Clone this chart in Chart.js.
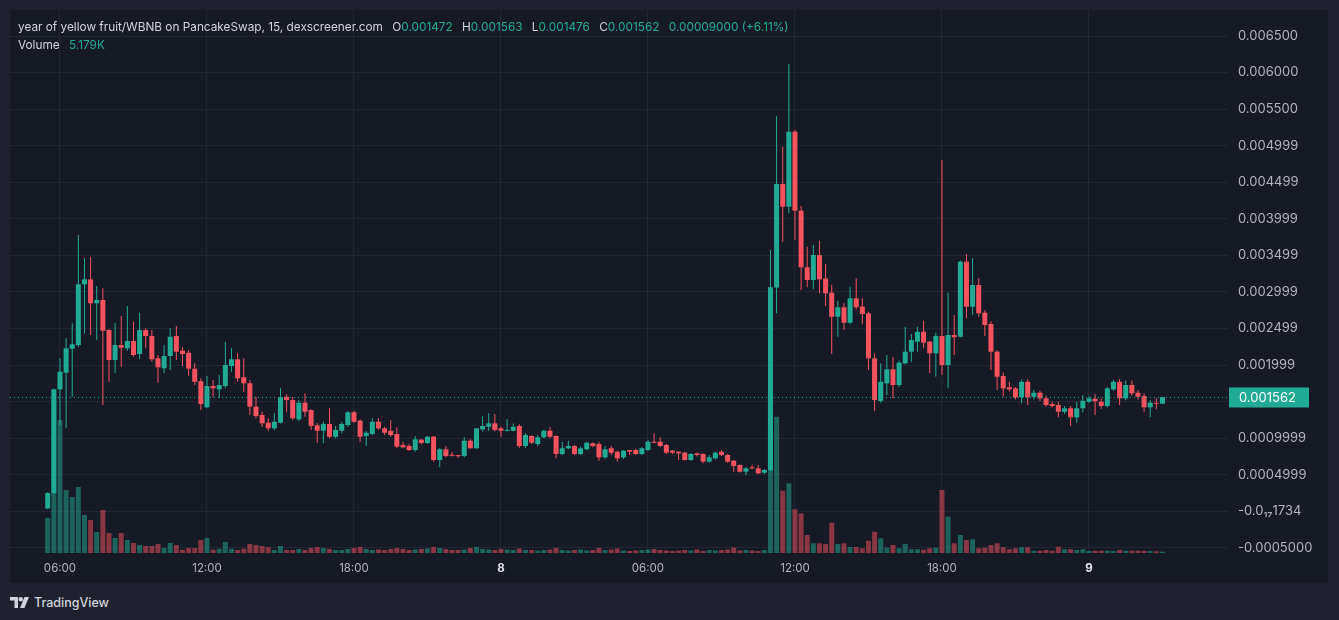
<!DOCTYPE html>
<html>
<head>
<meta charset="utf-8">
<script src="https://cdn.jsdelivr.net/npm/chart.js@4.4.1/dist/chart.umd.min.js"></script>
<style>
  html, body { margin: 0; padding: 0; }
  body { width: 1339px; height: 620px; overflow: hidden; background: #1f222e; font-family: Inter, Roboto, sans-serif; position: relative; }
  #panel { position: absolute; left: 10px; top: 10px; width: 1318px; height: 573px; background: #161a25; }
  #panel canvas { position: absolute; left: 0; top: 0; }
  #legend { position: absolute; left: 8px; top: 8px; font-size: 11.8px; color: #d1d4dc; line-height: 18px; pointer-events: none; }
  #legend .v { color: #22ab94; }
  #legend .k { margin-left: 6px; }
  #legend .gap { margin-left: 6px; }
  #brand { position: absolute; left: 10px; top: 595px; display: flex; align-items: center; color: #d1d4dc; font-size: 12.5px; font-weight: 500; }
  #brand svg { margin-right: 5px; }
</style>
</head>
<body>
<div id="panel">
  <canvas id="chart" width="1318" height="573"></canvas>
  <div id="legend">
    <div>year of yellow fruit/WBNB on PancakeSwap, 15, dexscreener.com <span class="k">O</span><span class="v">0.001472</span> <span class="k">H</span><span class="v">0.001563</span> <span class="k">L</span><span class="v">0.001476</span> <span class="k">C</span><span class="v">0.001562</span> <span class="v gap">0.00009000 (+6.11%)</span></div>
    <div>Volume <span class="v gap">5.179K</span></div>
  </div>
</div>
<div id="brand">
  <svg width="19" height="12" viewBox="0 0 19 12"><path d="M0 0h8v11H4.5V3.5H0z" fill="#d1d4dc"/><circle cx="10.8" cy="2.2" r="2.2" fill="#d1d4dc"/><path d="M14.5 0H19l-4.6 11H10z" fill="#d1d4dc"/></svg>
  TradingView
</div>
<script>
// 15 minute candles, first one at 05:30, last one at 03:00 two days later
const opens = [
  0.000040, 0.000250, 0.001668, 0.001896, 0.002224, 0.002274, 0.003104, 0.003173, 0.002845, 0.002890,
  0.002480, 0.002069, 0.002274, 0.002229, 0.002329, 0.002151, 0.002479, 0.002397, 0.002092, 0.001956,
  0.002124, 0.002397, 0.002196, 0.002169, 0.001950, 0.001780, 0.001422, 0.001714, 0.001668, 0.001714,
  0.001987, 0.002079, 0.001833, 0.001751, 0.001431, 0.001317, 0.001212, 0.001135, 0.001212, 0.001567,
  0.001522, 0.001258, 0.001485, 0.001385, 0.001176, 0.001102, 0.001194, 0.001020, 0.001102, 0.001180,
  0.001354, 0.001239, 0.001030, 0.001057, 0.001225, 0.001135, 0.001102, 0.001057, 0.000907, 0.000893,
  0.000838, 0.000980, 0.000935, 0.001020, 0.000702, 0.000848, 0.000770, 0.000760, 0.000756, 0.000966,
  0.000862, 0.001120, 0.001157, 0.001203, 0.001135, 0.001100, 0.001102, 0.001167, 0.000893, 0.001030,
  0.000920, 0.001012, 0.001102, 0.001030, 0.000784, 0.000862, 0.000893, 0.000784, 0.000848, 0.000930,
  0.000920, 0.000738, 0.000862, 0.000815, 0.000738, 0.000838, 0.000838, 0.000784, 0.000838, 0.000945,
  0.000952, 0.000907, 0.000830, 0.000815, 0.000802, 0.000702, 0.000793, 0.000784, 0.000680, 0.000725,
  0.000815, 0.000770, 0.000692, 0.000633, 0.000542, 0.000600, 0.000588, 0.000528, 0.000560, 0.003060,
  0.004476, 0.004166, 0.005191, 0.004111, 0.003337, 0.003163, 0.003505, 0.003186, 0.002990, 0.002661,
  0.002790, 0.002579, 0.002913, 0.002800, 0.002708, 0.002092, 0.001510, 0.001750, 0.001942, 0.001727,
  0.002024, 0.002183, 0.002320, 0.002456, 0.002320, 0.002161, 0.002397, 0.002001, 0.002411, 0.002388,
  0.003414, 0.002798, 0.003095, 0.002716, 0.002562, 0.002183, 0.001850, 0.001696, 0.001682, 0.001559,
  0.001772, 0.001567, 0.001622, 0.001545, 0.001467, 0.001454, 0.001362, 0.001409, 0.001285, 0.001409,
  0.001500, 0.001540, 0.001500, 0.001440, 0.001668, 0.001772, 0.001545, 0.001727, 0.001622, 0.001577,
  0.001422, 0.001477, 0.001472
];
const highs = [
  0.000260, 0.001680, 0.002092, 0.002366, 0.002571, 0.003779, 0.003460, 0.003482, 0.003081, 0.003050,
  0.002490, 0.002579, 0.002671, 0.002808, 0.002593, 0.002716, 0.002503, 0.002479, 0.002138, 0.002274,
  0.002503, 0.002534, 0.002247, 0.002206, 0.002024, 0.001819, 0.001850, 0.001796, 0.001864, 0.002320,
  0.002229, 0.002161, 0.002092, 0.001796, 0.001567, 0.001362, 0.001272, 0.001340, 0.001682, 0.001600,
  0.001567, 0.001522, 0.001614, 0.001395, 0.001208, 0.001225, 0.001409, 0.001167, 0.001225, 0.001376,
  0.001376, 0.001260, 0.001100, 0.001272, 0.001272, 0.001157, 0.001249, 0.001149, 0.000952, 0.000925,
  0.001030, 0.000990, 0.001030, 0.001030, 0.000870, 0.000893, 0.000810, 0.000765, 0.001012, 0.000985,
  0.001140, 0.001303, 0.001340, 0.001330, 0.001160, 0.001258, 0.001200, 0.001190, 0.001067, 0.001040,
  0.001040, 0.001120, 0.001149, 0.001040, 0.000952, 0.000966, 0.000907, 0.000884, 0.000952, 0.000940,
  0.000952, 0.000893, 0.000893, 0.000830, 0.000838, 0.000840, 0.000860, 0.000875, 0.000975, 0.001067,
  0.001012, 0.000925, 0.000838, 0.000820, 0.000815, 0.000793, 0.000800, 0.000793, 0.000770, 0.000815,
  0.000838, 0.000784, 0.000700, 0.000640, 0.000610, 0.000633, 0.000633, 0.000580, 0.003574, 0.005406,
  0.004986, 0.006117, 0.005220, 0.004175, 0.003619, 0.003642, 0.003701, 0.003382, 0.003100, 0.002880,
  0.002850, 0.003072, 0.003186, 0.002913, 0.002730, 0.002161, 0.002024, 0.002138, 0.002110, 0.002060,
  0.002525, 0.002425, 0.002525, 0.002607, 0.002330, 0.002442, 0.004805, 0.002990, 0.002684, 0.003430,
  0.003519, 0.003460, 0.003186, 0.002750, 0.002600, 0.002200, 0.001900, 0.001772, 0.001700, 0.001805,
  0.001805, 0.001660, 0.001650, 0.001580, 0.001500, 0.001500, 0.001440, 0.001440, 0.001500, 0.001590,
  0.001580, 0.001600, 0.001545, 0.001700, 0.001800, 0.001805, 0.001790, 0.001790, 0.001660, 0.001610,
  0.001522, 0.001545, 0.001563
];
const lows = [
  0.000030, 0.000240, 0.001180, 0.001139, 0.001567, 0.002250, 0.002434, 0.002411, 0.002343, 0.001454,
  0.001772, 0.001887, 0.001978, 0.002196, 0.002114, 0.002079, 0.002229, 0.002046, 0.001759, 0.001887,
  0.001932, 0.002069, 0.001987, 0.001850, 0.001727, 0.001385, 0.001409, 0.001559, 0.001545, 0.001682,
  0.001909, 0.001772, 0.001636, 0.001317, 0.001272, 0.001157, 0.001102, 0.001110, 0.001200, 0.001362,
  0.001248, 0.001235, 0.001294, 0.001112, 0.000938, 0.000930, 0.000998, 0.000998, 0.001067, 0.001153,
  0.001212, 0.000952, 0.000893, 0.001040, 0.001112, 0.001043, 0.001020, 0.000862, 0.000862, 0.000825,
  0.000815, 0.000915, 0.000920, 0.000680, 0.000602, 0.000740, 0.000750, 0.000730, 0.000740, 0.000860,
  0.000855, 0.001090, 0.001100, 0.001090, 0.001020, 0.001090, 0.001090, 0.000870, 0.000862, 0.000920,
  0.000893, 0.000998, 0.001000, 0.000725, 0.000770, 0.000850, 0.000770, 0.000770, 0.000835, 0.000875,
  0.000692, 0.000720, 0.000770, 0.000680, 0.000720, 0.000770, 0.000770, 0.000770, 0.000830, 0.000930,
  0.000880, 0.000784, 0.000784, 0.000702, 0.000695, 0.000692, 0.000750, 0.000656, 0.000665, 0.000710,
  0.000755, 0.000665, 0.000542, 0.000530, 0.000496, 0.000575, 0.000505, 0.000510, 0.000545, 0.002708,
  0.003687, 0.004075, 0.003710, 0.003026, 0.003063, 0.003036, 0.002981, 0.002808, 0.002151, 0.002388,
  0.002479, 0.002560, 0.002760, 0.002560, 0.001932, 0.001372, 0.001485, 0.001590, 0.001545, 0.001700,
  0.002010, 0.002046, 0.002183, 0.002229, 0.001887, 0.001841, 0.001864, 0.001682, 0.002138, 0.002380,
  0.002640, 0.002684, 0.002660, 0.002397, 0.001932, 0.001659, 0.001567, 0.001640, 0.001530, 0.001477,
  0.001454, 0.001530, 0.001510, 0.001430, 0.001420, 0.001285, 0.001330, 0.001167, 0.001212, 0.001350,
  0.001480, 0.001317, 0.001400, 0.001420, 0.001650, 0.001454, 0.001520, 0.001580, 0.001530, 0.001362,
  0.001285, 0.001395, 0.001476
];
const closes = [
  0.000250, 0.001668, 0.001909, 0.002229, 0.002284, 0.003104, 0.003173, 0.002845, 0.002890, 0.002470,
  0.002069, 0.002274, 0.002237, 0.002329, 0.002138, 0.002479, 0.002397, 0.002079, 0.001969, 0.002124,
  0.002388, 0.002183, 0.002151, 0.001950, 0.001772, 0.001467, 0.001714, 0.001682, 0.001727, 0.002001,
  0.002079, 0.001819, 0.001751, 0.001431, 0.001303, 0.001203, 0.001135, 0.001225, 0.001559, 0.001522,
  0.001272, 0.001485, 0.001362, 0.001167, 0.001102, 0.001194, 0.001020, 0.001112, 0.001194, 0.001354,
  0.001225, 0.001020, 0.001075, 0.001225, 0.001135, 0.001075, 0.001043, 0.000884, 0.000875, 0.000838,
  0.000985, 0.000935, 0.001020, 0.000702, 0.000848, 0.000756, 0.000760, 0.000755, 0.000966, 0.000862,
  0.001135, 0.001167, 0.001203, 0.001112, 0.001102, 0.001112, 0.001157, 0.000893, 0.001043, 0.000938,
  0.001012, 0.001102, 0.001020, 0.000784, 0.000862, 0.000893, 0.000784, 0.000862, 0.000938, 0.000893,
  0.000738, 0.000848, 0.000802, 0.000725, 0.000830, 0.000815, 0.000784, 0.000862, 0.000952, 0.000938,
  0.000893, 0.000802, 0.000802, 0.000793, 0.000702, 0.000784, 0.000770, 0.000680, 0.000738, 0.000802,
  0.000770, 0.000680, 0.000620, 0.000542, 0.000588, 0.000588, 0.000520, 0.000565, 0.003065, 0.004476,
  0.004166, 0.005191, 0.004111, 0.003337, 0.003163, 0.003505, 0.003172, 0.002981, 0.002661, 0.002790,
  0.002579, 0.002913, 0.002790, 0.002698, 0.002092, 0.001522, 0.001772, 0.001942, 0.001727, 0.002032,
  0.002183, 0.002343, 0.002456, 0.002306, 0.002161, 0.002397, 0.002001, 0.002411, 0.002380, 0.003414,
  0.002798, 0.003095, 0.002708, 0.002548, 0.002183, 0.001841, 0.001682, 0.001668, 0.001559, 0.001772,
  0.001559, 0.001622, 0.001545, 0.001454, 0.001440, 0.001362, 0.001409, 0.001285, 0.001409, 0.001512,
  0.001545, 0.001505, 0.001440, 0.001682, 0.001772, 0.001545, 0.001727, 0.001614, 0.001567, 0.001422,
  0.001485, 0.001470, 0.001562
];
// volume in thousands
const volumes = [
  140, 612, 532, 252, 224, 264, 152, 132, 84, 172,
  80, 60, 80, 52, 40, 32, 28, 28, 36, 20,
  40, 32, 13, 20, 20, 52, 60, 13, 17, 44,
  17, 12, 17, 36, 32, 28, 23, 12, 28, 12,
  12, 16, 12, 20, 24, 20, 16, 12, 12, 16,
  20, 24, 16, 12, 14, 12, 16, 20, 16, 12,
  14, 16, 18, 24, 20, 16, 12, 12, 14, 20,
  24, 16, 14, 12, 16, 14, 12, 18, 12, 12,
  10, 12, 14, 20, 12, 10, 12, 14, 10, 12,
  20, 12, 14, 18, 10, 8, 10, 12, 14, 16,
  12, 10, 8, 10, 12, 10, 14, 8, 12, 10,
  12, 14, 22, 10, 12, 10, 8, 12, 640, 545,
  249, 279, 175, 159, 72, 39, 39, 36, 121, 36,
  39, 24, 24, 19, 49, 85, 59, 21, 32, 19,
  36, 15, 15, 13, 19, 21, 252, 145, 39, 72,
  52, 55, 19, 21, 32, 39, 23, 15, 19, 23,
  23, 9, 9, 12, 9, 25, 15, 15, 12, 15,
  8, 9, 9, 9, 8, 12, 9, 9, 9, 9,
  8, 7, 5.179
];

const xTickIndex = [2, 26, 50, 74, 98, 122, 146, 170];
const xTickLabels = ['06:00', '12:00', '18:00', '8', '06:00', '12:00', '18:00', '9'];
const priceTickValues = [-0.0005, 0, 0.0005, 0.001, 0.0015, 0.002, 0.0025, 0.003, 0.0035, 0.004, 0.0045, 0.005, 0.0055, 0.006, 0.0065];
const priceTickLabels = ['-0.0005000', '-0.0\u2081\u20871734', '0.0004999', '0.0009999', '', '0.001999', '0.002499', '0.002999', '0.003499', '0.003999', '0.004499', '0.004999', '0.005500', '0.006000', '0.006500'];

const UP = '#22ab94';
const DOWN = '#f7525f';
const UP_VOL = 'rgba(34,171,148,0.5)';
const DOWN_VOL = 'rgba(247,82,95,0.5)';
const GRID = '#232733';
const TEXT = '#b2b5be';

const isUp = (i) => closes[i] >= opens[i];

const lastPricePlugin = {
  id: 'lastPrice',
  afterDatasetsDraw(chart) {
    const { ctx, chartArea, scales } = chart;
    const last = closes[closes.length - 1];
    const y = Math.round(scales.y.getPixelForValue(last)) + 0.5;
    ctx.save();
    ctx.strokeStyle = UP;
    ctx.lineWidth = 1;
    ctx.setLineDash([1, 3]);
    ctx.beginPath();
    ctx.moveTo(chartArea.left, y);
    ctx.lineTo(chartArea.right, y);
    ctx.stroke();
    ctx.setLineDash([]);
    ctx.fillStyle = UP;
    ctx.fillRect(chartArea.right + 1, y - 10, 80, 20);
    ctx.fillStyle = '#ffffff';
    ctx.font = '13px Inter, Roboto, sans-serif';
    ctx.textBaseline = 'middle';
    ctx.textAlign = 'left';
    ctx.fillText(last.toFixed(6), chartArea.right + 11, y + 0.5);
    ctx.restore();
  }
};

new Chart(document.getElementById('chart'), {
  type: 'bar',
  data: {
    datasets: [
      {
        label: 'body',
        data: opens.map((o, i) => ({ x: i, y: [o, closes[i]] })),
        backgroundColor: opens.map((o, i) => isUp(i) ? UP : DOWN),
        barThickness: 5,
        minBarLength: 1,
        grouped: false,
        order: 1,
        yAxisID: 'y'
      },
      {
        label: 'wick',
        data: lows.map((l, i) => ({ x: i, y: [l, highs[i]] })),
        backgroundColor: lows.map((l, i) => isUp(i) ? UP : DOWN),
        barThickness: 1,
        grouped: false,
        order: 2,
        yAxisID: 'y'
      },
      {
        label: 'volume',
        data: volumes.map((v, i) => ({ x: i, y: v })),
        backgroundColor: volumes.map((v, i) => isUp(i) ? UP_VOL : DOWN_VOL),
        barThickness: 5,
        grouped: false,
        order: 3,
        yAxisID: 'yVol'
      }
    ]
  },
  options: {
    responsive: false,
    devicePixelRatio: 1,
    animation: false,
    layout: { padding: 0 },
    plugins: { legend: { display: false }, tooltip: { enabled: false } },
    elements: { bar: { borderWidth: 0, inflateAmount: 0 } },
    scales: {
      x: {
        type: 'linear',
        position: 'bottom',
        min: -6.16,
        max: 192.7,
        offset: false,
        afterBuildTicks: (scale) => { scale.ticks = xTickIndex.map(v => ({ value: v })); },
        afterFit: (scale) => {
          scale.height = 30;
          scale.paddingLeft = 0;
          scale.paddingRight = 0;
        },
        grid: { color: GRID, drawTicks: false, offset: false },
        border: { display: false },
        ticks: {
          autoSkip: false,
          maxRotation: 0,
          padding: 9,
          callback: (v, i) => xTickLabels[i],
          color: (c) => /^\d$/.test(xTickLabels[c.index] || '') ? '#e3e5ea' : TEXT,
          font: (c) => ({ family: 'Inter, Roboto, sans-serif', size: 11.5, weight: /^\d$/.test(xTickLabels[c.index] || '') ? 'bold' : 'normal' })
        }
      },
      y: {
        position: 'right',
        min: -0.00057,
        max: 0.006856,
        afterBuildTicks: (scale) => { scale.ticks = priceTickValues.map(v => ({ value: v })); },
        afterFit: (scale) => {
          scale.width = 100;
          scale.paddingTop = 0;
          scale.paddingBottom = 0;
        },
        grid: { color: GRID, drawTicks: false },
        border: { display: false },
        ticks: {
          padding: 10,
          color: TEXT,
          font: { family: 'Inter, Roboto, sans-serif', size: 13 },
          callback: (v, i) => priceTickLabels[i]
        }
      },
      yVol: {
        display: false,
        min: 0,
        max: 2172
      }
    }
  },
  plugins: [lastPricePlugin]
});
</script>
</body>
</html>
